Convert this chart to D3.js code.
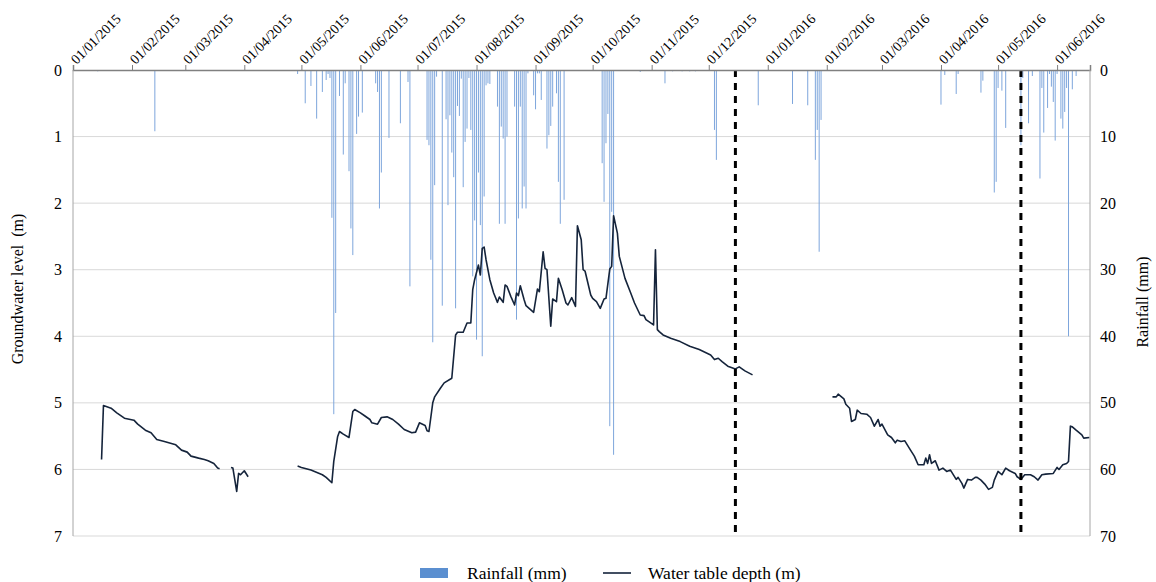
<!DOCTYPE html>
<html>
<head>
<meta charset="utf-8">
<script src="https://cdn.jsdelivr.net/npm/d3@7"></script>
<style>
  html, body { margin: 0; padding: 0; background: #fff; }
  svg { display: block; font-family: "Liberation Serif", "Times New Roman", serif; }
  text { white-space: pre; }
</style>
</head>
<body>
<svg id="chart" width="1156" height="582"></svg>
<script>
// Daily rainfall (mm)
const rainDates = [
  "2015-01-14","2015-02-13","2015-04-29","2015-05-03","2015-05-06","2015-05-09","2015-05-12","2015-05-14",
  "2015-05-15","2015-05-16","2015-05-17","2015-05-18","2015-05-19","2015-05-21","2015-05-23","2015-05-24",
  "2015-05-26","2015-05-27","2015-05-28","2015-05-30","2015-05-31","2015-06-02","2015-06-09","2015-06-10",
  "2015-06-11","2015-06-12","2015-06-16","2015-06-22","2015-06-26","2015-06-27","2015-07-06","2015-07-07",
  "2015-07-08","2015-07-09","2015-07-10","2015-07-11","2015-07-14","2015-07-16","2015-07-17","2015-07-18",
  "2015-07-19","2015-07-20","2015-07-21","2015-07-22","2015-07-23","2015-07-24","2015-07-25","2015-07-26",
  "2015-07-27","2015-07-28","2015-07-29","2015-07-30","2015-07-31","2015-08-01","2015-08-02","2015-08-03",
  "2015-08-04","2015-08-05","2015-08-06","2015-08-07","2015-08-08","2015-08-12","2015-08-13","2015-08-14",
  "2015-08-15","2015-08-16","2015-08-17","2015-08-21","2015-08-22","2015-08-23","2015-08-24","2015-08-25",
  "2015-08-26","2015-08-27","2015-08-28","2015-08-31","2015-09-01","2015-09-02","2015-09-03","2015-09-04",
  "2015-09-07","2015-09-08","2015-09-09","2015-09-10","2015-09-12","2015-09-13","2015-09-14","2015-09-16",
  "2015-10-06","2015-10-07","2015-10-08","2015-10-09","2015-10-10","2015-10-11","2015-10-12","2015-10-26",
  "2015-11-08","2015-11-12","2015-11-17","2015-11-21","2015-11-24","2015-12-04","2015-12-05","2015-12-27",
  "2016-01-14","2016-01-22","2016-01-26","2016-01-27","2016-01-28","2016-01-29","2016-04-01","2016-04-03",
  "2016-04-09","2016-04-10","2016-04-22","2016-04-23","2016-04-29","2016-04-30","2016-05-01","2016-05-03",
  "2016-05-05","2016-05-13","2016-05-14","2016-05-17","2016-05-19","2016-05-23","2016-05-24","2016-05-25",
  "2016-05-27","2016-05-28","2016-05-29","2016-05-30","2016-05-31","2016-06-01","2016-06-03","2016-06-04",
  "2016-06-05","2016-06-06","2016-06-07","2016-06-09","2016-06-11"
];
const rainValues = [
  0.2, 9.2, 0.6, 5.0, 2.4, 7.3, 3.3, 1.5,
  0.6, 1.2, 22.2, 51.7, 36.5, 3.9, 12.7, 2.0,
  15.2, 23.8, 27.8, 9.6, 7.0, 6.4, 2.0, 3.3,
  20.8, 15.4, 10.2, 8.0, 1.8, 32.5, 10.5, 11.3,
  28.5, 40.9, 17.3, 1.0, 35.4, 7.4, 20.3, 6.8,
  12.4, 16.1, 35.8, 5.4, 6.9, 1.3, 17.6, 10.8,
  8.8, 1.2, 9.0, 31.0, 22.6, 40.5, 15.4, 23.3,
  43.0, 19.0, 2.3, 2.0, 2.1, 5.5, 23.1, 8.5,
  10.3, 23.1, 10.0, 5.5, 37.5, 22.3, 5.5, 20.8,
  17.5, 20.8, 0.5, 3.8, 5.9, 0.5, 0.5, 4.5,
  11.8, 9.8, 8.4, 5.5, 3.5, 16.8, 23.1, 19.5,
  14.0, 19.8, 11.0, 6.6, 53.5, 21.3, 57.8, 0.3,
  2.0, 0.2, 0.2, 0.2, 0.2, 9.0, 13.5, 5.3,
  5.1, 5.3, 13.5, 9.0, 27.3, 7.5, 5.2, 0.75,
  3.6, 0.6, 3.4, 1.6, 18.4, 16.8, 2.7, 3.1,
  8.7, 11.3, 1.2, 8.0, 0.9, 16.3, 2.7, 9.4,
  5.7, 0.6, 2.5, 4.8, 10.6, 0.6, 7.3, 8.8,
  6.3, 2.7, 40.0, 2.9, 0.9
];

// Water table depth (m); null marks a gap in the record
const levelDates = [
  "2015-01-16","2015-01-17","2015-01-21","2015-01-24","2015-01-28","2015-02-02","2015-02-04","2015-02-08",
  "2015-02-11","2015-02-14","2015-02-18","2015-02-24","2015-02-27","2015-03-02","2015-03-04","2015-03-08",
  "2015-03-11","2015-03-13","2015-03-16","2015-03-18","2015-03-19","2015-03-22",
  "2015-03-25","2015-03-26","2015-03-28","2015-03-29","2015-03-30","2015-04-01","2015-04-03","2015-04-10",
  "2015-04-29","2015-05-01","2015-05-06","2015-05-12","2015-05-14","2015-05-17","2015-05-18","2015-05-20",
  "2015-05-21","2015-05-23","2015-05-26","2015-05-28","2015-05-29","2015-06-01","2015-06-03","2015-06-06",
  "2015-06-07","2015-06-10","2015-06-12","2015-06-15","2015-06-18","2015-06-21","2015-06-24","2015-06-28",
  "2015-06-30","2015-07-02","2015-07-05","2015-07-06","2015-07-07","2015-07-09","2015-07-10","2015-07-13",
  "2015-07-15","2015-07-19","2015-07-21","2015-07-22","2015-07-25","2015-07-27","2015-07-29","2015-07-30",
  "2015-07-31","2015-08-02","2015-08-03","2015-08-04","2015-08-05","2015-08-06","2015-08-08","2015-08-10",
  "2015-08-12","2015-08-13","2015-08-15","2015-08-16","2015-08-17","2015-08-19","2015-08-21","2015-08-22",
  "2015-08-23","2015-08-24","2015-08-26","2015-08-27","2015-08-31","2015-09-02","2015-09-03","2015-09-05",
  "2015-09-06","2015-09-07","2015-09-09","2015-09-10","2015-09-12","2015-09-13","2015-09-15","2015-09-17",
  "2015-09-18","2015-09-20","2015-09-22","2015-09-23","2015-09-25","2015-09-26","2015-09-27","2015-09-30",
  "2015-10-01","2015-10-03","2015-10-05","2015-10-07","2015-10-08","2015-10-10","2015-10-11","2015-10-12",
  "2015-10-14","2015-10-15","2015-10-18","2015-10-21","2015-10-23","2015-10-25","2015-10-26","2015-10-28",
  "2015-10-29","2015-11-02","2015-11-03","2015-11-04","2015-11-05","2015-11-07","2015-11-11","2015-11-16",
  "2015-11-21","2015-11-26","2015-12-02","2015-12-04","2015-12-06","2015-12-08","2015-12-11","2015-12-15",
  "2015-12-17","2015-12-20","2015-12-24","2016-01-10",
  "2016-02-04","2016-02-06","2016-02-07","2016-02-10","2016-02-11","2016-02-13","2016-02-14","2016-02-16",
  "2016-02-17","2016-02-19","2016-02-22","2016-02-24","2016-02-26","2016-02-28","2016-02-29","2016-03-01",
  "2016-03-04","2016-03-06","2016-03-08","2016-03-09","2016-03-11","2016-03-13","2016-03-16","2016-03-18",
  "2016-03-20","2016-03-23","2016-03-24","2016-03-25","2016-03-26","2016-03-27","2016-03-29","2016-03-31",
  "2016-04-02","2016-04-04","2016-04-06","2016-04-09","2016-04-10","2016-04-12","2016-04-13","2016-04-15",
  "2016-04-17","2016-04-19","2016-04-20","2016-04-22","2016-04-24","2016-04-26","2016-04-28","2016-04-29",
  "2016-05-01","2016-05-03","2016-05-05","2016-05-07","2016-05-10","2016-05-11","2016-05-13","2016-05-15",
  "2016-05-18","2016-05-20","2016-05-22","2016-05-24","2016-05-26","2016-05-30","2016-06-01","2016-06-02",
  "2016-06-04","2016-06-06","2016-06-07","2016-06-08","2016-06-09","2016-06-11","2016-06-14","2016-06-15",
  "2016-06-18"
];
const levelValues = [
  5.85, 5.04, 5.08, 5.15, 5.23, 5.26, 5.32, 5.41,
  5.45, 5.55, 5.58, 5.63, 5.71, 5.74, 5.80, 5.83,
  5.85, 5.87, 5.91, 5.98, 5.99, null,
  5.97, 5.98, 6.33, 6.06, 6.08, 6.02, 6.11, null,
  5.95, 5.97, 6.01, 6.08, 6.12, 6.20, 5.88, 5.51,
  5.43, 5.47, 5.52, 5.13, 5.10, 5.15, 5.19, 5.25,
  5.30, 5.32, 5.22, 5.21, 5.25, 5.32, 5.40, 5.45,
  5.44, 5.30, 5.34, 5.42, 5.43, 5.00, 4.91, 4.78,
  4.70, 4.63, 3.98, 3.94, 3.94, 3.80, 3.80, 3.30,
  3.15, 2.93, 3.08, 2.68, 2.66, 2.85, 3.15, 3.35,
  3.49, 3.41, 3.49, 3.23, 3.25, 3.40, 3.53, 3.35,
  3.39, 3.24, 3.45, 3.54, 3.64, 3.29, 3.33, 2.73,
  2.98, 3.00, 3.85, 3.44, 3.48, 3.13, 3.30, 3.50,
  3.53, 3.42, 3.55, 2.34, 2.55, 3.00, 3.02, 3.38,
  3.43, 3.48, 3.58, 3.44, 3.43, 2.99, 2.95, 2.19,
  2.45, 2.80, 3.13, 3.35, 3.50, 3.62, 3.68, 3.69,
  3.75, 3.83, 2.70, 3.90, 3.93, 3.98, 4.03, 4.08,
  4.15, 4.20, 4.28, 4.35, 4.33, 4.38, 4.45, 4.49,
  4.46, 4.52, 4.58, null,
  4.91, 4.91, 4.87, 4.94, 5.02, 5.08, 5.28, 5.25,
  5.11, 5.16, 5.17, 5.22, 5.35, 5.25, 5.35, 5.32,
  5.48, 5.52, 5.60, 5.56, 5.58, 5.57, 5.71, 5.80,
  5.93, 5.93, 5.83, 5.91, 5.78, 5.91, 5.87, 6.01,
  5.98, 6.03, 6.01, 6.15, 6.12, 6.21, 6.28, 6.15,
  6.16, 6.12, 6.12, 6.16, 6.22, 6.30, 6.27, 6.16,
  6.03, 6.08, 5.98, 6.02, 6.06, 6.11, 6.15, 6.08,
  6.08, 6.11, 6.16, 6.08, 6.07, 6.06, 5.97, 6.00,
  5.93, 5.91, 5.88, 5.35, 5.36, 5.41, 5.48, 5.53,
  5.52
];

// Axis ranges and ticks
const dateStart = "2015-01-01";
const dateEnd = "2016-06-18T07:00";
const monthTicks = [
  "2015-01-01","2015-02-01","2015-03-01","2015-04-01","2015-05-01","2015-06-01","2015-07-01","2015-08-01",
  "2015-09-01","2015-10-01","2015-11-01","2015-12-01","2016-01-01","2016-02-01","2016-03-01","2016-04-01",
  "2016-05-01","2016-06-01"
];
const levelTicks = [0, 1, 2, 3, 4, 5, 6, 7];
const rainTicks = [0, 10, 20, 30, 40, 50, 60, 70];
// Vertical reference dates
const markerDates = ["2015-12-15", "2016-05-13"];

const parse = s => new Date(s.length > 10 ? s + "Z" : s + "T00:00Z");

const svg = d3.select("#chart");
const margin = { left: 73, right: 66, top: 70, bottom: 46 };
const W = 1156, H = 582;
const plotW = W - margin.left - margin.right;
const plotH = H - margin.top - margin.bottom;

const x = d3.scaleUtc().domain([parse(dateStart), parse(dateEnd)]).range([margin.left, margin.left + plotW]);
const yLevel = d3.scaleLinear().domain([0, 7]).range([margin.top, margin.top + plotH]);
const yRain = d3.scaleLinear().domain([0, 70]).range([margin.top, margin.top + plotH]);

// Horizontal gridlines
svg.append("g")
  .selectAll("line")
  .data(levelTicks.slice(1))
  .join("line")
  .attr("x1", margin.left).attr("x2", margin.left + plotW)
  .attr("y1", d => yLevel(d)).attr("y2", d => yLevel(d))
  .attr("stroke", "#d9d9d9").attr("stroke-width", 1);

// Rainfall bars hanging from the top axis
const rain = rainDates.map((d, i) => ({ date: parse(d), mm: rainValues[i] }));
svg.append("g")
  .selectAll("rect")
  .data(rain)
  .join("rect")
  .attr("x", d => x(d.date) - 0.5)
  .attr("width", 1)
  .attr("y", yRain(0))
  .attr("height", d => yRain(d.mm) - yRain(0))
  .attr("fill", "#7ea6dc");

// Water table depth line
const level = levelDates.map((d, i) => ({ date: parse(d), v: levelValues[i] }));
const line = d3.line()
  .defined(d => d.v != null)
  .x(d => x(d.date))
  .y(d => yLevel(d.v));
svg.append("path")
  .datum(level)
  .attr("d", line)
  .attr("fill", "none")
  .attr("stroke", "#15243b")
  .attr("stroke-width", 1.6)
  .attr("stroke-linejoin", "round");

// Dashed reference lines
svg.append("g")
  .selectAll("line")
  .data(markerDates.map(parse))
  .join("line")
  .attr("x1", d => x(d)).attr("x2", d => x(d))
  .attr("y1", margin.top).attr("y2", margin.top + plotH)
  .attr("stroke", "#000").attr("stroke-width", 3)
  .attr("stroke-dasharray", "7,6");

// Top date axis
const topAxis = svg.append("g")
  .attr("transform", `translate(0,${margin.top})`)
  .call(d3.axisTop(x)
    .tickValues(monthTicks.map(parse))
    .tickSize(5)
    .tickFormat(d3.utcFormat("%d/%m/%Y")));
topAxis.select(".domain").attr("stroke", "#808080").attr("stroke-width", 1.5);
topAxis.selectAll(".tick line").attr("stroke", "#808080");
topAxis.selectAll(".tick text")
  .attr("font-family", "Liberation Serif, serif")
  .attr("font-size", 14)
  .attr("fill", "#000")
  .attr("text-anchor", "start")
  .attr("transform", "translate(3,-5) rotate(-45)")
  .attr("x", 0).attr("y", 0).attr("dy", 0);

// Left and right axis lines
svg.append("line")
  .attr("x1", margin.left).attr("x2", margin.left)
  .attr("y1", margin.top).attr("y2", margin.top + plotH)
  .attr("stroke", "#a6a6a6");
svg.append("line")
  .attr("x1", margin.left + plotW).attr("x2", margin.left + plotW)
  .attr("y1", margin.top).attr("y2", margin.top + plotH)
  .attr("stroke", "#a6a6a6");

// Left axis labels (groundwater level)
svg.append("g")
  .selectAll("text")
  .data(levelTicks)
  .join("text")
  .attr("x", 62)
  .attr("y", d => yLevel(d))
  .attr("dy", "0.35em")
  .attr("text-anchor", "end")
  .attr("font-size", 16)
  .text(d => d);

// Right axis labels (rainfall)
svg.append("g")
  .selectAll("text")
  .data(rainTicks)
  .join("text")
  .attr("x", margin.left + plotW + 10)
  .attr("y", d => yRain(d))
  .attr("dy", "0.35em")
  .attr("text-anchor", "start")
  .attr("font-size", 16)
  .text(d => d);

// Axis titles
svg.append("text")
  .attr("transform", `translate(23,${margin.top + plotH / 2 - 14}) rotate(-90)`)
  .attr("text-anchor", "middle")
  .attr("font-size", 16)
  .text("Groundwater level  (m)");
svg.append("text")
  .attr("transform", `translate(1148,302) rotate(-90)`)
  .attr("text-anchor", "middle")
  .attr("font-size", 16)
  .text("Rainfall (mm)");

// Legend
const legend = svg.append("g").attr("transform", "translate(0,573)");
legend.append("rect").attr("x", 420).attr("y", -5).attr("width", 28).attr("height", 10).attr("fill", "#5b8fd0");
legend.append("text").attr("x", 467).attr("y", 0).attr("dy", "0.35em").attr("font-size", 17.5).text("Rainfall (mm)");
legend.append("line").attr("x1", 603).attr("x2", 631).attr("y1", 0).attr("y2", 0).attr("stroke", "#15243b").attr("stroke-width", 1.6);
legend.append("text").attr("x", 648).attr("y", 0).attr("dy", "0.35em").attr("font-size", 17.5).text("Water table depth (m)");
</script>
</body>
</html>
